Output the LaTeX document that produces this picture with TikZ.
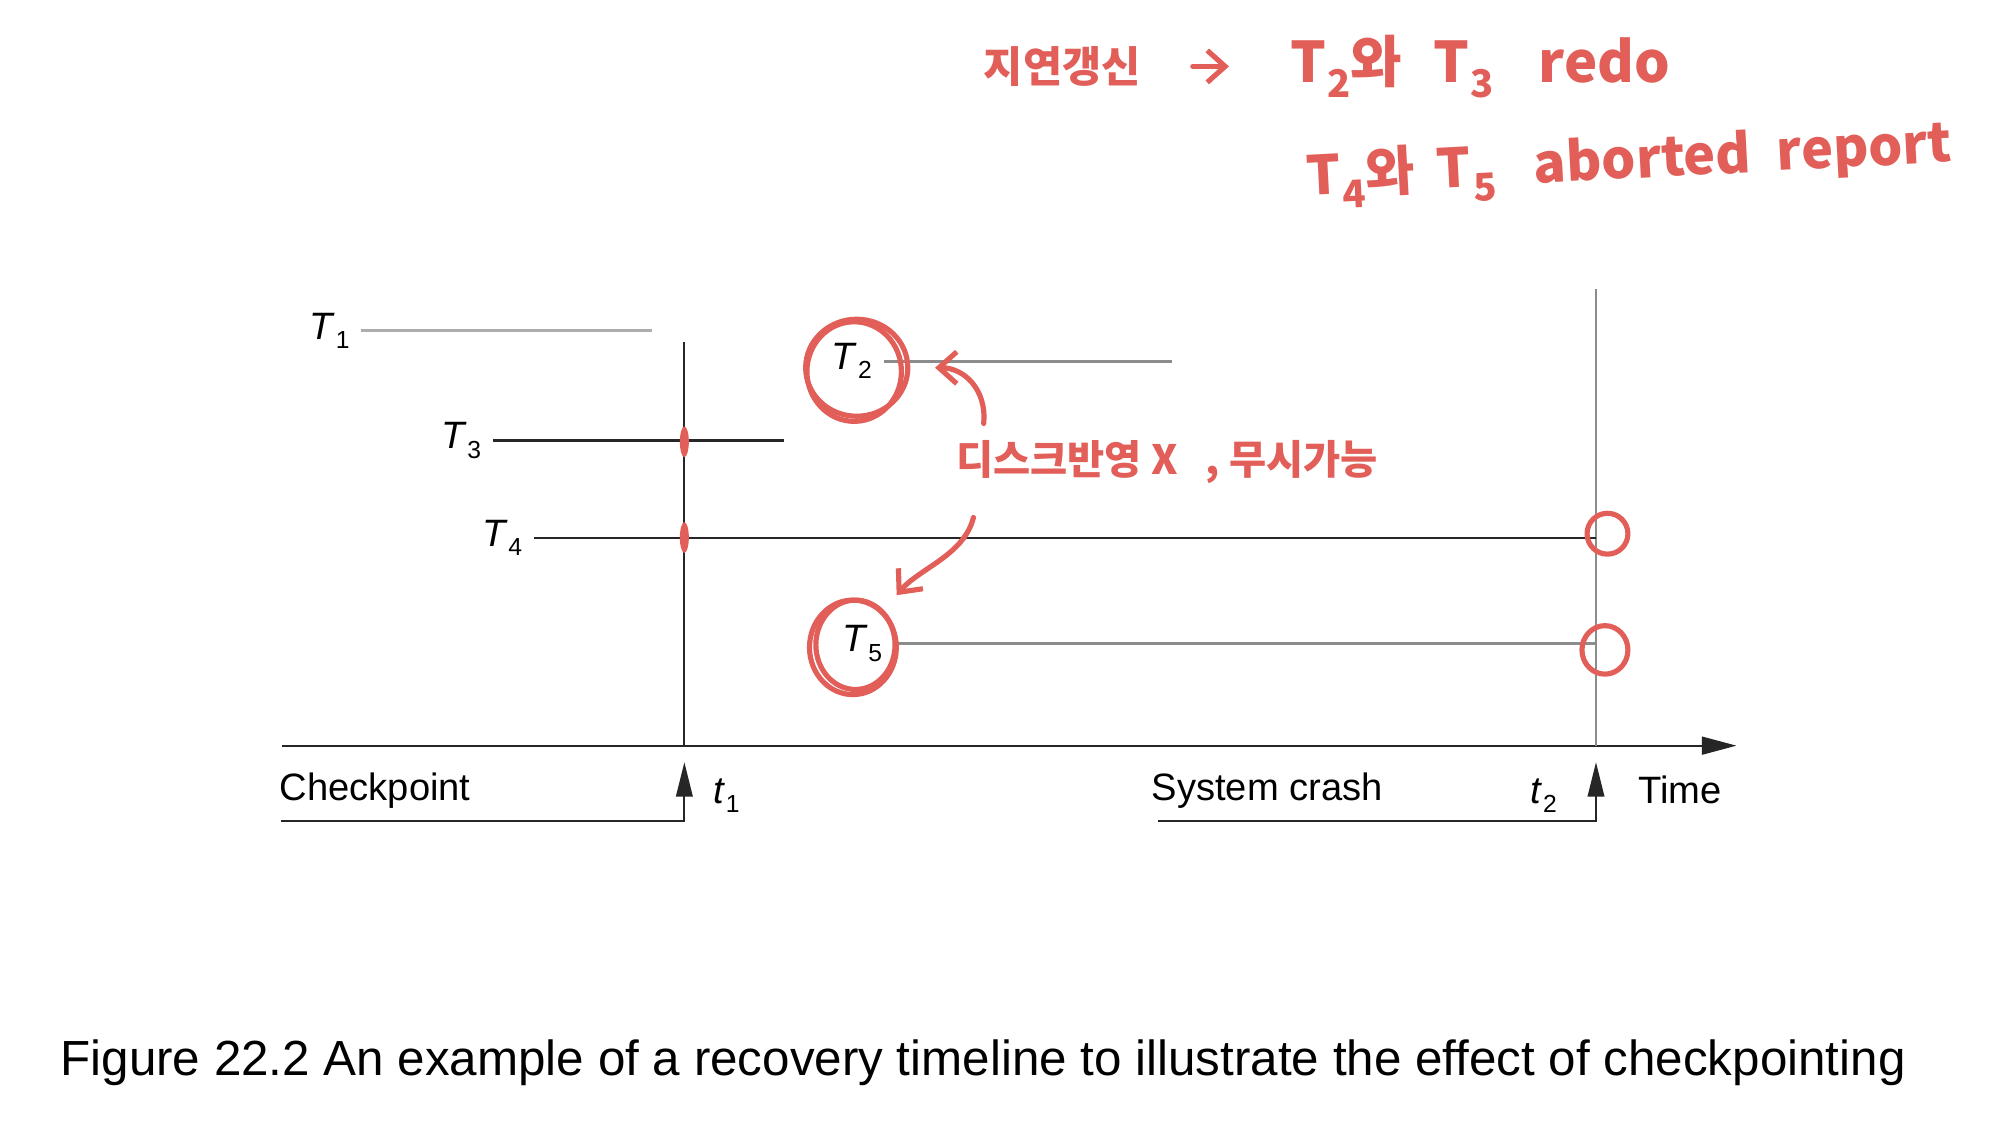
\documentclass[tikz,border=0pt]{standalone}
\usepackage{fontspec}
\setmainfont{Liberation Sans}
\newfontfamily\krfont{Noto Sans CJK KR}
\usetikzlibrary{arrows.meta}
\definecolor{penred}{RGB}{226,94,88}
% label with a lowered index, as T_1 or t_2
\newcommand{\tsub}[2]{\textit{#1}\kern0.3pt\raisebox{-0.45ex}{\fontsize{11}{11}\selectfont #2}}
% the same for the hand-written notes
\newcommand{\hsub}[2]{#1\kern0.5pt\raisebox{-0.5ex}{\fontsize{17}{17}\selectfont #2}}

\begin{document}
\begin{tikzpicture}[x=0.02cm, y=-0.02cm,
    lbl/.style={font=\fontsize{17}{20}\selectfont, inner sep=1pt},
    tname/.style={lbl, anchor=east, inner xsep=5pt},
    blackline/.style={line width=0.9pt, color=black!85},
    greyline/.style={line width=1.1pt, color=black!45},
    paleline/.style={line width=1.6pt, color=black!32},
    upmark/.style={-{Triangle[length=0.54cm, width=0.26cm]}},
    pen/.style={penred, line width=2.3pt, line cap=round, line join=round},
    penarrow/.style={pen, -{Straight Barb[length=0.28cm, width=0.5cm]}},
    hand/.style={penred, font=\krfont\bfseries\fontsize{25}{27}\selectfont, inner sep=0pt},
    ring/.style={circle, inner sep=0pt, minimum size=#1}
]
    % --- page ---
    \fill[white] (0,0) rectangle (1568,887);
    \useasboundingbox (0,0) rectangle (1568,887);

    % --- time axis, checkpoint and crash ---
    \coordinate (ax0) at (221,584);
    \coordinate (ax1) at (1360,584);
    \draw[blackline, -{Triangle[length=0.54cm, width=0.28cm]}] (ax0) -- (ax1);
    \coordinate (cpTop) at (536,268);
    \coordinate (cpBot) at (536,584);
    \draw[blackline] (cpTop) -- (cpBot);
    \coordinate (crTop) at (1250,226);
    \coordinate (crBot) at (1250,584);
    \draw[greyline] (crTop) -- (crBot);

    % --- transactions ---
    \node[tname] (T1) at (283,259) {\tsub{T}{1}};
    \coordinate (T1e) at (511,259);
    \draw[paleline] (T1.east) -- (T1e);

    \node[tname] (T2) at (692,283) {\tsub{T}{2}};
    \coordinate (T2e) at (918,283);
    \draw[greyline] (T2.east) -- (T2e);

    \node[tname] (T3) at (386,345) {\tsub{T}{3}};
    \coordinate (T3e) at (614,345);
    \draw[blackline] (T3.east) -- (T3e);

    \node[tname] (T4) at (418,421) {\tsub{T}{4}};
    \coordinate (T4e) at (1250,421);
    \draw[blackline] (T4.east) -- (T4e);

    \node[tname] (T5) at (700,504) {\tsub{T}{5}};
    \coordinate (T5e) at (1250,504);
    \draw[greyline] (T5.east) -- (T5e);

    % --- labels under the axis ---
    \node[lbl, anchor=west] (cpText) at (217,619) {Checkpoint};
    \coordinate (cpLeft) at (220,643);
    \coordinate (cpFoot) at (536,643);
    \coordinate (cpTip) at (536,597);
    \draw[blackline, upmark] (cpLeft) -- (cpFoot) -- (cpTip);
    \node[lbl] (t1) at (569,623) {\tsub{t}{1}};

    \node[lbl, anchor=west] (crText) at (900,619) {System crash};
    \coordinate (crLeft) at (907,643);
    \coordinate (crFoot) at (1250,643);
    \coordinate (crTip) at (1250,597);
    \draw[blackline, upmark] (crLeft) -- (crFoot) -- (crTip);
    \node[lbl] (t2) at (1209,623) {\tsub{t}{2}};
    \node[lbl] (time) at (1316,619) {Time};

    % --- hand-written marks ---
    \fill[penred] (536,346) ellipse [x radius=3.5, y radius=12];
    \fill[penred] (536,421) ellipse [x radius=3.5, y radius=12];
    \draw[pen] (1259,418) circle [radius=16];
    \draw[pen] (1257,509) ellipse [x radius=18, y radius=19];

    \node[ring=1.56cm] (ring2) at (671,288) {};
    \draw[pen] (671,288) ellipse [x radius=40, y radius=38];
    \draw[pen] (669,291) ellipse [x radius=37, y radius=39];
    \node[ring=1.44cm] (ring5) at (668,507) {};
    \draw[pen] (668,507) ellipse [x radius=34, y radius=37];
    \draw[pen] (670,505) ellipse [x radius=31, y radius=35];

    \node[hand, font=\krfont\bfseries\fontsize{18}{20}\selectfont] (note) at (914,362) {디스크반영 X \hspace{0.3cm}, 무시가능};
    \draw[penarrow, shorten >=0.44cm] ([shift={(22,-13)}]note.north west) .. controls (773,305) and (755,288) .. (ring2);
    \draw[penarrow, shorten >=0.34cm] ([shift={(14,26)}]note.south west) .. controls (755,435) and (720,445) .. (ring5);

    % --- notes at the top ---
    \node[hand, font=\krfont\bfseries\fontsize{19}{21}\selectfont] (hwA) at (832,52) {지연갱신};
    \node[hand, anchor=west] (hwB) at (1010,52) {\hsub{T}{2}와\hspace{0.5cm}\hsub{T}{3}\hspace{0.7cm}redo};
    \draw[penarrow] ([xshift=23]hwA.east) -- ([xshift=-27]hwB.west);
    \node[hand, font=\krfont\bfseries\fontsize{24}{26}\selectfont, rotate=3] (hwC) at (1276,128) {\hsub{T}{4}와\hspace{0.35cm}\hsub{T}{5}\hspace{0.6cm}aborted\hspace{0.4cm}report};

    % --- caption ---
    \node[font=\fontsize{22}{26}\selectfont] (caption) at (770,832) {Figure 22.2 An example of a recovery timeline to illustrate the effect of checkpointing};
\end{tikzpicture}
\end{document}
